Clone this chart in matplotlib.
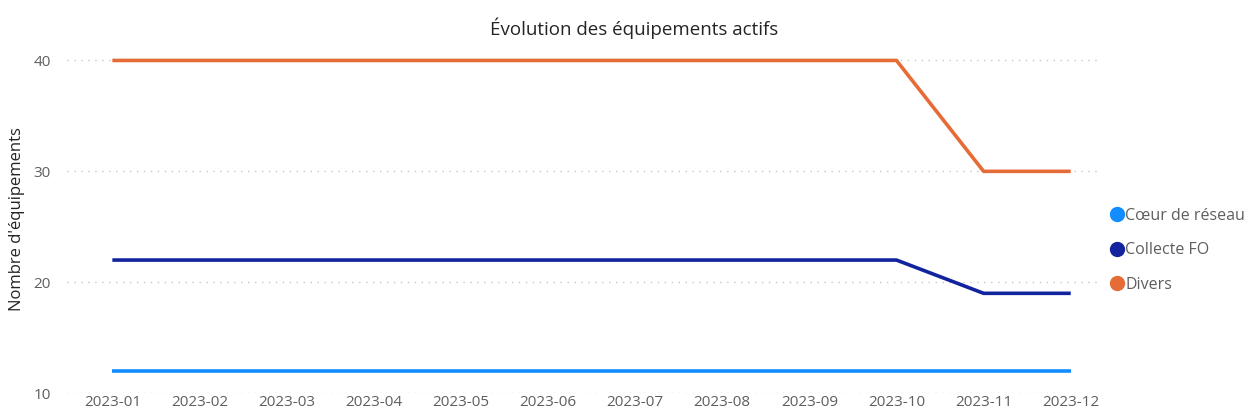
import matplotlib.pyplot as plt
from matplotlib.lines import Line2D

plt.rcParams['font.family'] = ['Open Sans', 'DejaVu Sans']

months = ['2023-01', '2023-02', '2023-03', '2023-04', '2023-05', '2023-06',
          '2023-07', '2023-08', '2023-09', '2023-10', '2023-11', '2023-12']
coeur = [12, 12, 12, 12, 12, 12, 12, 12, 12, 12, 12, 12]
collecte = [22, 22, 22, 22, 22, 22, 22, 22, 22, 22, 19, 19]
divers = [40, 40, 40, 40, 40, 40, 40, 40, 40, 40, 30, 30]

series = [('Cœur de réseau', coeur, '#118DFF'),
          ('Collecte FO', collecte, '#12239E'),
          ('Divers', divers, '#E66C37')]

fig = plt.figure(figsize=(12.48, 4.16), dpi=100)
ax = fig.add_axes([0.054, 0.055, 0.827, 0.837])

x = list(range(len(months)))
for name, vals, color in series:
    ax.plot(x, vals, color=color, linewidth=2.6, solid_capstyle='butt')

ax.set_xlim(-0.516, 11.33)
ax.set_ylim(10, 41.4)
ax.set_yticks([10, 20, 30, 40])
ax.set_xticks(x)
ax.set_xticklabels(months)
ax.tick_params(axis='both', length=0, labelsize=11, colors='#605E5C')
ax.tick_params(axis='x', pad=1)
ax.tick_params(axis='y', pad=12)
ax.grid(axis='y', color='#C8C6C4', linestyle=(0, (1, 4)), linewidth=1)
ax.set_axisbelow(True)
for s in ax.spines.values():
    s.set_visible(False)

ax.set_ylabel("Nombre d'équipements", fontsize=12, color='#252423', labelpad=6)
fig.text(0.508, 0.915, 'Évolution des équipements actifs', ha='center',
         fontsize=13.5, color='#252423')

handles = [Line2D([], [], marker='o', linestyle='none', color=c, markersize=10)
           for _, _, c in series]
ax.legend(handles, [n for n, _, _ in series], loc='center left',
          bbox_to_anchor=(0.995, 0.41), frameon=False, fontsize=11.5,
          labelcolor='#605E5C', handletextpad=0.05, labelspacing=1.15,
          handlelength=1.0)

fig.savefig('out.png', dpi=100)
